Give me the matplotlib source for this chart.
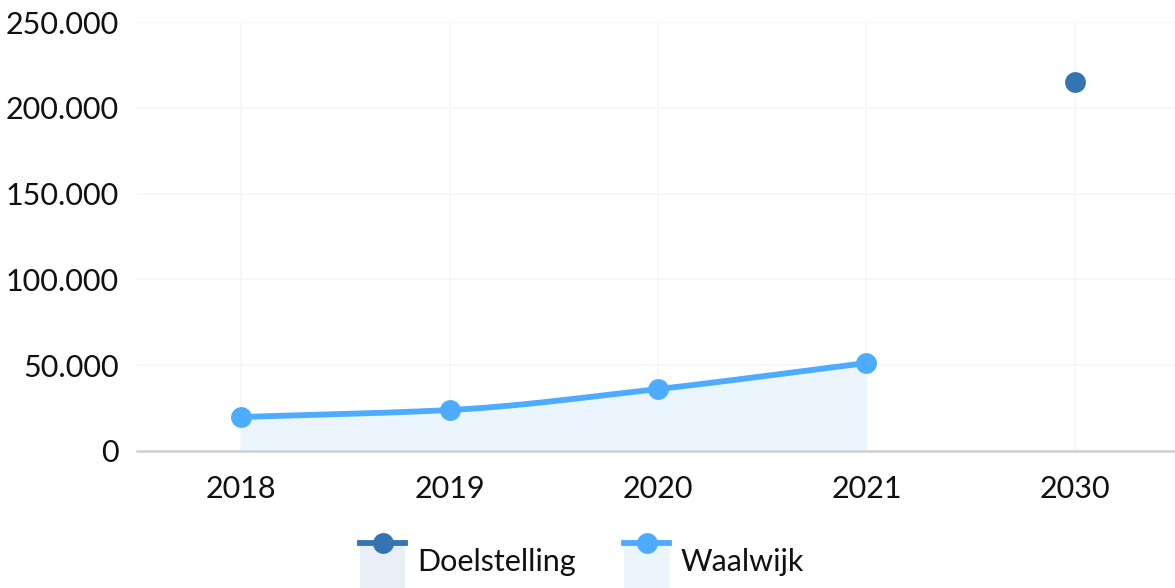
import numpy as np
import matplotlib
matplotlib.use("Agg")
import matplotlib.pyplot as plt
from matplotlib.lines import Line2D
from matplotlib.patches import Rectangle
from matplotlib.ticker import FuncFormatter

categories = ["2018", "2019", "2020", "2021", "2030"]
waalwijk = [19800, 23900, 36100, 51300, None]
doelstelling = [None, None, None, None, 215000]
y_ticks = [0, 50000, 100000, 150000, 200000, 250000]

plt.rcParams['font.family'] = ['Lato', 'DejaVu Sans']

C_W = "#4dacff"
C_WF = "#eaf5fe"
C_D = "#3574b3"
C_DF = "#e8eff7"
FS = 22

fig = plt.figure(figsize=(11.75, 5.88), dpi=100)
ax = fig.add_axes([137/1175, 137/588, 1042/1175, 429/588])

def pchip(x, y, n=60):
    x = np.asarray(x, float); y = np.asarray(y, float)
    h = np.diff(x); d = np.diff(y) / h
    m = np.zeros_like(y)
    for i in range(1, len(y) - 1):
        if d[i-1] * d[i] > 0:
            w1 = 2*h[i] + h[i-1]; w2 = h[i] + 2*h[i-1]
            m[i] = (w1 + w2) / (w1/d[i-1] + w2/d[i])
    m[0] = d[0]; m[-1] = d[-1]
    xs, ys = [], []
    for i in range(len(x) - 1):
        t = np.linspace(0, 1, n)
        h00 = 2*t**3 - 3*t**2 + 1; h10 = t**3 - 2*t**2 + t
        h01 = -2*t**3 + 3*t**2; h11 = t**3 - t**2
        xs.append(x[i] + t*h[i])
        ys.append(h00*y[i] + h10*h[i]*m[i] + h01*y[i+1] + h11*h[i]*m[i+1])
    return np.concatenate(xs), np.concatenate(ys)

wx = [i for i, v in enumerate(waalwijk) if v is not None]
wy = [v for v in waalwijk if v is not None]
sx, sy = pchip(wx, wy)
ax.fill_between(sx, 0, sy, color=C_WF, zorder=1, lw=0)
ax.plot(sx, sy, color=C_W, lw=4.2, zorder=3, solid_capstyle='round')
ax.plot(wx, wy, 'o', color=C_W, ms=15, zorder=4, mew=0)

dx = [i for i, v in enumerate(doelstelling) if v is not None]
dy = [v for v in doelstelling if v is not None]
ax.plot(dx, dy, 'o', color=C_D, ms=15, zorder=4, mew=0)

ax.set_xlim(-0.5, 4.5)
ax.set_ylim(0, 250000)
ax.set_xticks(range(len(categories)))
ax.set_xticklabels(categories)
ax.set_yticks(y_ticks)
ax.yaxis.set_major_formatter(FuncFormatter(lambda v, p: f"{int(v):,}".replace(",", ".")))
ax.grid(True, color="#f5f6f8", lw=1.2, zorder=0)
ax.set_axisbelow(True)
for s in ["top", "right", "left"]:
    ax.spines[s].set_visible(False)
ax.spines["bottom"].set_color("#ccd0d6")
ax.spines["bottom"].set_linewidth(1.8)
ax.spines["bottom"].set_zorder(5)
ax.tick_params(axis='both', length=0, labelsize=FS, colors="#111111")
ax.tick_params(axis='x', pad=17)
ax.tick_params(axis='y', pad=13)

# legend drawn in figure coordinates
def legend_item(x0, label, line_c, fill_c):
    W, H = 1175, 588
    fig.patches.append(Rectangle((x0/W, 0), 45/W, (H-543)/H, transform=fig.transFigure,
                                 color=fill_c, lw=0, zorder=1))
    fig.lines.append(Line2D([x0/W, (x0+45)/W], [(H-543)/H]*2, transform=fig.transFigure,
                            color=line_c, lw=4.2, zorder=2))
    fig.lines.append(Line2D([(x0+22.5)/W], [(H-543)/H], transform=fig.transFigure,
                            marker='o', ms=15, color=line_c, mew=0, zorder=3))
    fig.text((x0+57)/W, (H-562)/H, label, fontsize=FS, va='center', ha='left', color="#111111")

legend_item(360, "Doelstelling", C_D, C_DF)
legend_item(624, "Waalwijk", C_W, C_WF)

fig.savefig("out.png", dpi=100)
